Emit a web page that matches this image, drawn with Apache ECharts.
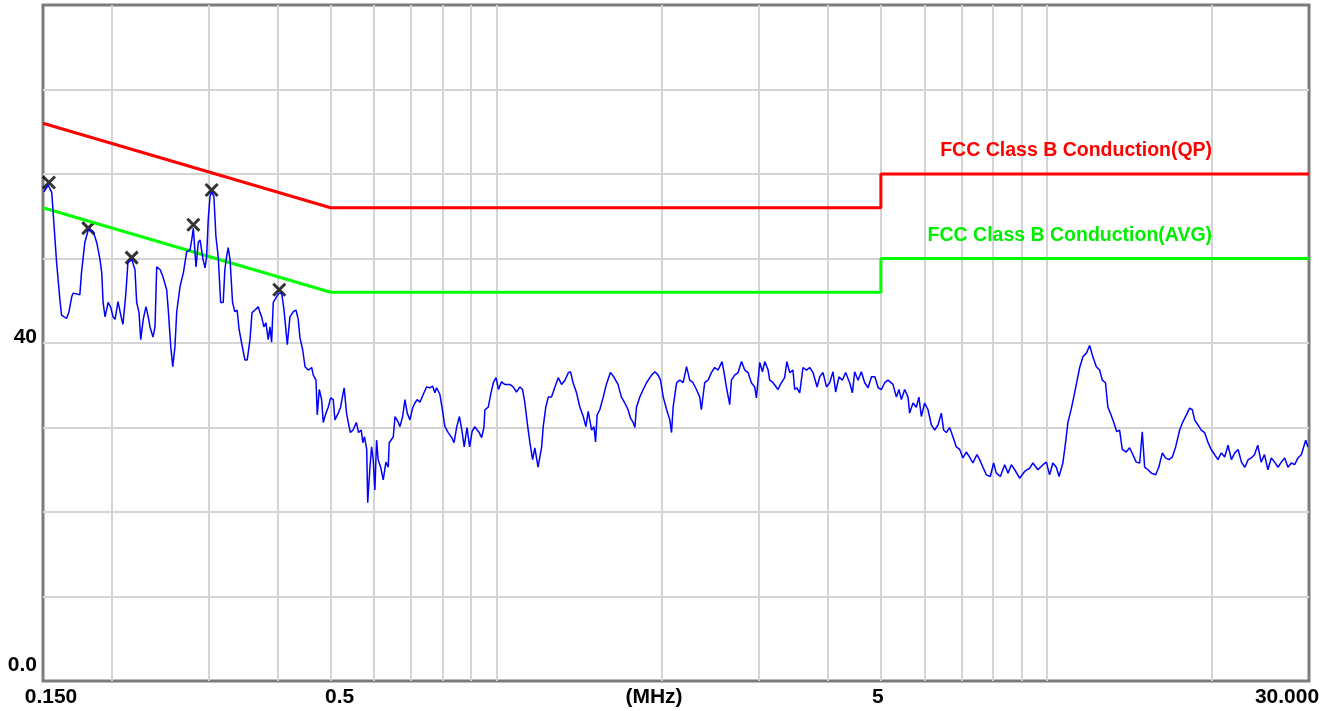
<!DOCTYPE html>
<html>
<head>
<meta charset="utf-8">
<script src="https://cdn.jsdelivr.net/npm/echarts@6/dist/echarts.min.js"></script>
<style>
  html, body { margin: 0; padding: 0; background: #fff; }
  #chart { width: 1333px; height: 711px; }
</style>
</head>
<body>
<div id="chart"></div>
<script>
// frequency (MHz) / level (dBuV)
var scanData = [
  [0.1506,57.9],[0.1533,58.7],[0.1556,57.8],[0.1588,49.5],[0.161,45.1],[0.1621,43.3],[0.1655,42.9],[0.1671,43.6],
  [0.1692,45.5],[0.1701,45.9],[0.175,45.7],[0.1762,48.3],[0.1787,51.9],[0.1813,53.4],[0.1851,53.2],[0.1878,51.9],
  [0.1904,49.9],[0.1918,48.3],[0.1929,44.8],[0.1945,43.1],[0.197,44.8],[0.1992,44.2],[0.2011,43.1],[0.2028,42.8],
  [0.2053,44.9],[0.2085,42.8],[0.2096,42.2],[0.2122,45.9],[0.214,49.5],[0.2174,49.9],[0.2204,48.7],[0.222,44.8],
  [0.2242,43.6],[0.2258,40.4],[0.2282,42.8],[0.2308,44.3],[0.233,43.1],[0.2347,41.9],[0.2377,40.7],[0.2397,41.9],
  [0.2414,49.0],[0.2448,48.7],[0.2479,47.8],[0.2517,46.3],[0.2534,43.9],[0.256,39.6],[0.2582,37.2],[0.2606,39.6],
  [0.2625,43.7],[0.2662,46.7],[0.2699,48.3],[0.2737,50.8],[0.2775,51.0],[0.2795,52.2],[0.2814,53.6],[0.2846,49.0],
  [0.2873,51.9],[0.2894,52.2],[0.293,49.9],[0.2955,48.9],[0.2975,50.2],[0.2995,54.6],[0.3017,57.3],[0.3038,57.9],
  [0.3067,57.3],[0.3093,52.6],[0.3123,50.2],[0.3155,44.8],[0.3189,44.8],[0.3211,48.7],[0.3234,50.2],[0.3256,51.3],
  [0.3281,49.9],[0.3316,44.8],[0.3348,43.7],[0.338,43.9],[0.3408,41.6],[0.3444,40.0],[0.3492,38.0],[0.3526,38.0],
  [0.3567,40.4],[0.3597,43.6],[0.3642,43.9],[0.3693,44.3],[0.3719,43.6],[0.3745,43.1],[0.3781,41.9],[0.3813,42.4],
  [0.385,40.4],[0.3878,41.9],[0.3905,40.1],[0.3932,44.8],[0.3988,45.5],[0.4032,45.9],[0.4073,45.9],[0.4113,43.9],
  [0.417,39.8],[0.4216,43.1],[0.4275,43.7],[0.4324,43.9],[0.4365,42.8],[0.4397,40.6],[0.4447,39.2],[0.4491,37.2],
  [0.4553,36.8],[0.4618,37.1],[0.4649,36.2],[0.4702,35.6],[0.4727,31.5],[0.4767,34.5],[0.4814,33.3],[0.4847,30.6],
  [0.4902,31.7],[0.4949,32.4],[0.4999,33.5],[0.5054,33.3],[0.509,30.9],[0.5161,31.7],[0.5212,32.4],[0.5268,34.1],
  [0.529,34.7],[0.5343,31.7],[0.54,30.1],[0.5431,29.4],[0.549,29.7],[0.5567,30.6],[0.5619,29.4],[0.5682,29.7],
  [0.572,28.2],[0.576,28.9],[0.5814,27.4],[0.5838,21.1],[0.5893,25.3],[0.5934,27.7],[0.5974,26.2],[0.6016,22.6],
  [0.6059,28.5],[0.6099,26.2],[0.6163,25.3],[0.623,23.8],[0.63,25.9],[0.6362,25.3],[0.6388,28.2],[0.6498,28.9],
  [0.6545,31.3],[0.6637,30.6],[0.6681,30.1],[0.6757,31.3],[0.6822,33.3],[0.6888,31.7],[0.6966,30.9],[0.7045,32.3],
  [0.7112,32.9],[0.7181,33.3],[0.7264,33.0],[0.7364,33.9],[0.7469,34.8],[0.7574,34.7],[0.766,34.9],[0.7734,34.1],
  [0.779,34.7],[0.7898,33.9],[0.7988,31.9],[0.8065,30.1],[0.8178,29.4],[0.8298,28.8],[0.8379,28.2],[0.8475,30.1],
  [0.857,31.3],[0.8657,29.7],[0.8743,27.7],[0.8845,30.0],[0.8944,27.7],[0.9036,29.5],[0.9138,30.1],[0.9232,29.7],
  [0.9309,29.4],[0.9403,28.8],[0.9495,30.0],[0.9535,32.1],[0.9669,32.4],[0.978,34.1],[0.9876,35.3],[0.9991,35.9],
  [1.009,34.5],[1.022,35.4],[1.036,35.1],[1.058,35.1],[1.073,34.8],[1.088,34.2],[1.104,34.8],[1.116,34.5],
  [1.127,32.9],[1.138,30.6],[1.151,28.2],[1.164,26.2],[1.175,27.6],[1.191,25.3],[1.209,27.7],[1.217,30.1],
  [1.23,32.4],[1.243,33.6],[1.26,33.6],[1.278,34.8],[1.296,35.9],[1.314,35.1],[1.333,35.6],[1.352,36.5],
  [1.364,36.6],[1.379,35.3],[1.399,34.1],[1.419,32.4],[1.439,31.3],[1.455,30.1],[1.469,31.9],[1.49,29.7],
  [1.505,30.1],[1.515,28.3],[1.525,31.5],[1.542,32.1],[1.563,33.5],[1.585,35.1],[1.612,36.5],[1.635,36.0],
  [1.664,35.1],[1.688,33.6],[1.712,32.9],[1.736,32.1],[1.754,31.1],[1.773,30.6],[1.786,30.0],[1.798,32.4],
  [1.823,33.6],[1.849,34.5],[1.875,35.3],[1.915,36.2],[1.942,36.6],[1.969,36.2],[1.988,35.6],[2.011,33.6],
  [2.04,32.1],[2.067,30.9],[2.082,29.4],[2.096,32.4],[2.127,35.3],[2.155,35.6],[2.186,35.3],[2.217,37.2],
  [2.247,35.6],[2.278,35.3],[2.311,34.5],[2.343,33.6],[2.359,32.1],[2.392,35.3],[2.426,35.6],[2.46,36.5],
  [2.494,37.1],[2.53,36.8],[2.572,37.8],[2.594,36.5],[2.619,34.8],[2.656,32.7],[2.675,35.6],[2.712,36.2],
  [2.751,36.5],[2.79,37.8],[2.829,36.8],[2.868,36.5],[2.908,35.3],[2.949,34.8],[2.97,33.5],[3.012,37.7],
  [3.046,36.6],[3.076,37.8],[3.119,36.8],[3.14,35.6],[3.185,35.3],[3.251,34.5],[3.284,35.1],[3.342,35.9],
  [3.374,37.8],[3.414,36.5],[3.461,36.8],[3.486,34.5],[3.519,34.7],[3.56,34.1],[3.609,37.1],[3.661,36.8],
  [3.712,37.1],[3.764,36.5],[3.829,34.8],[3.871,36.0],[3.925,36.5],[3.982,34.8],[4.036,35.3],[4.092,36.6],
  [4.138,34.2],[4.196,36.0],[4.256,35.6],[4.315,36.5],[4.388,35.3],[4.438,34.1],[4.481,36.6],[4.545,35.6],
  [4.608,36.6],[4.673,35.3],[4.74,34.7],[4.807,36.0],[4.876,36.0],[4.944,34.7],[5.01,34.5],[5.081,35.3],
  [5.152,35.6],[5.26,35.1],[5.336,33.6],[5.393,34.5],[5.448,33.3],[5.524,34.5],[5.601,33.6],[5.64,31.7],
  [5.719,32.9],[5.8,32.4],[5.863,33.6],[5.923,31.3],[6.005,32.9],[6.09,32.1],[6.177,30.3],[6.263,29.7],
  [6.351,30.3],[6.44,31.7],[6.502,29.7],[6.575,29.4],[6.668,30.0],[6.76,28.9],[6.857,27.7],[6.953,27.4],
  [7.049,26.4],[7.149,27.1],[7.25,26.5],[7.35,25.8],[7.474,26.8],[7.56,26.2],[7.665,25.3],[7.774,24.4],
  [7.905,24.2],[8.015,25.8],[8.106,24.6],[8.244,24.2],[8.394,25.6],[8.512,24.6],[8.634,25.6],[8.755,25.0],
  [8.937,24.0],[9.126,24.8],[9.319,25.2],[9.448,25.8],[9.648,25.0],[9.853,25.6],[9.995,25.9],[10.13,24.4],
  [10.27,25.8],[10.42,25.3],[10.54,24.2],[10.71,25.8],[10.83,28.2],[10.94,30.6],[11.1,32.3],[11.25,34.1],
  [11.37,35.6],[11.49,37.1],[11.65,38.4],[11.82,38.8],[11.98,39.7],[12.15,38.3],[12.32,37.2],[12.49,36.8],
  [12.63,35.6],[12.8,35.3],[12.93,32.4],[13.1,31.5],[13.3,30.3],[13.42,29.5],[13.58,29.7],[13.73,27.4],
  [13.96,27.1],[14.16,27.6],[14.35,26.8],[14.56,25.9],[14.77,25.8],[14.93,29.5],[15.08,25.3],[15.29,25.0],
  [15.51,24.6],[15.79,24.4],[16.0,25.3],[16.24,27.0],[16.45,26.4],[16.69,26.2],[16.93,26.5],[17.17,27.7],
  [17.46,29.7],[17.7,30.7],[17.96,31.5],[18.2,32.3],[18.41,32.1],[18.59,30.9],[18.85,30.3],[19.11,29.7],
  [19.38,29.4],[19.64,28.3],[19.92,27.4],[20.21,26.8],[20.49,26.2],[20.79,27.0],[21.08,26.5],[21.38,27.9],
  [21.68,26.2],[21.99,27.0],[22.3,27.4],[22.61,25.9],[22.94,25.3],[23.26,26.2],[23.56,26.4],[23.89,26.8],
  [24.21,27.9],[24.56,25.9],[24.9,26.8],[25.26,25.0],[25.62,26.4],[25.98,25.9],[26.35,25.3],[26.72,25.9],
  [27.1,26.4],[27.47,25.3],[27.87,25.8],[28.25,25.6],[28.65,26.4],[29.06,26.8],[29.59,28.5],[29.87,27.7]
];

// peak markers
var peakMarks = [[0.1538,59.0],[0.1813,53.6],[0.2174,50.1],[0.2814,54.0],[0.3038,58.1],[0.4032,46.3]];

// FCC Class B conducted limits
var qpLimit  = [[0.15,66],[0.5,56],[5,56],[5,60],[30,60]];
var avgLimit = [[0.15,56],[0.5,46],[5,46],[5,50],[30,50]];

var xGridTicks  = [0.15,0.2,0.3,0.4,0.5,0.6,0.7,0.8,0.9,1,2,3,4,5,6,7,8,9,10,20,30];
var xLabelTicks = [0.15,0.5,5,30];
var yLabelTicks = [0,40];
var labelFont = 'Liberation Sans, Arial, sans-serif';

var chart = echarts.init(document.getElementById('chart'));

var option = {
    animation: false,
    backgroundColor: '#fff',
    grid: {
        left: 43, right: 24, top: 5, bottom: 30,
        containLabel: false,
        outerBoundsMode: 'none',
        show: true,
        borderColor: '#7c7c7c',
        borderWidth: 3,
        backgroundColor: '#fff'
    },
    xAxis: {
        type: 'log',
        logBase: 10,
        min: 0.15,
        max: 30,
        name: '(MHz)',
        nameLocation: 'middle',
        nameGap: 6,
        nameMoveOverlap: false,
        nameTextStyle: {
            color: '#000', fontFamily: labelFont, fontWeight: 'bold', fontSize: 21,
            verticalAlign: 'top', padding: [0, 44, 0, 0]
        },
        axisLine: { show: false },
        axisTick: { show: false, customValues: xGridTicks },
        splitLine: {
            show: true, showMinLine: false, showMaxLine: false,
            lineStyle: { color: '#d4d4d4', width: 2 }
        },
        axisLabel: {
            customValues: xLabelTicks,
            margin: 6,
            color: '#000',
            fontFamily: labelFont,
            fontWeight: 'bold',
            fontSize: 21,
            formatter: function (v) {
                if (Math.abs(v - 0.15) < 1e-6) return '{a|0.150}';
                if (Math.abs(v - 0.5) < 1e-6) return '{b|0.5}';
                if (Math.abs(v - 5) < 1e-6) return '{c|5}';
                if (Math.abs(v - 30) < 1e-6) return '{d|30.000}';
                return '';
            },
            rich: {
                a: { padding: [0, 0, 0, 16], fontSize: 21, fontWeight: 'bold', fontFamily: labelFont },
                b: { padding: [0, 0, 0, 18], fontSize: 21, fontWeight: 'bold', fontFamily: labelFont },
                c: { padding: [0, 6, 0, 0], fontSize: 21, fontWeight: 'bold', fontFamily: labelFont },
                d: { padding: [0, 44, 0, 0], fontSize: 21, fontWeight: 'bold', fontFamily: labelFont }
            }
        }
    },
    yAxis: {
        type: 'value',
        min: 0,
        max: 80,
        interval: 10,
        axisLine: { show: false },
        axisTick: { show: false },
        splitLine: {
            show: true, showMinLine: false, showMaxLine: false,
            lineStyle: { color: '#d4d4d4', width: 2 }
        },
        axisLabel: {
            customValues: yLabelTicks,
            margin: 6,
            color: '#000',
            fontFamily: labelFont,
            fontWeight: 'bold',
            fontSize: 21,
            formatter: function (v) {
                if (v === 0) return '{z|0.0}';
                if (v === 40) return '{f|40}';
                return '';
            },
            rich: {
                z: { padding: [0, 0, 32, 0], fontSize: 21, fontWeight: 'bold', fontFamily: labelFont },
                f: { padding: [0, 0, 12, 0], fontSize: 21, fontWeight: 'bold', fontFamily: labelFont }
            }
        }
    },
    series: [{
        name: 'QP',
        type: 'line',
        data: qpLimit,
        showSymbol: false,
        lineStyle: { color: '#ff0000', width: 3 },
        markPoint: {
            symbolSize: 0,
            data: [{ coord: [20, 60] }],
            label: {
                show: true, position: 'left', distance: 0, offset: [0, -23],
                formatter: 'FCC Class B Conduction(QP)',
                color: '#ff0000', fontFamily: labelFont, fontWeight: 'bold', fontSize: 19.5
            }
        }
    }, {
        name: 'AVG',
        type: 'line',
        data: avgLimit,
        showSymbol: false,
        lineStyle: { color: '#00ff00', width: 3 },
        markPoint: {
            symbolSize: 0,
            data: [{ coord: [20, 50] }],
            label: {
                show: true, position: 'left', distance: 0, offset: [0, -23],
                formatter: 'FCC Class B Conduction(AVG)',
                color: '#00ee00', fontFamily: labelFont, fontWeight: 'bold', fontSize: 19.5
            }
        }
    }, {
        name: 'Scan',
        type: 'line',
        data: scanData,
        showSymbol: false,
        lineStyle: { color: '#0000ff', width: 1.5 }
    }, {
        name: 'Peaks',
        type: 'scatter',
        data: peakMarks,
        symbol: 'path://M0,0L10,10M10,0L0,10',
        symbolSize: 12,
        itemStyle: { color: 'transparent', borderColor: '#000', borderWidth: 3 }
    }]
};

chart.setOption(option);
</script>
</body>
</html>
